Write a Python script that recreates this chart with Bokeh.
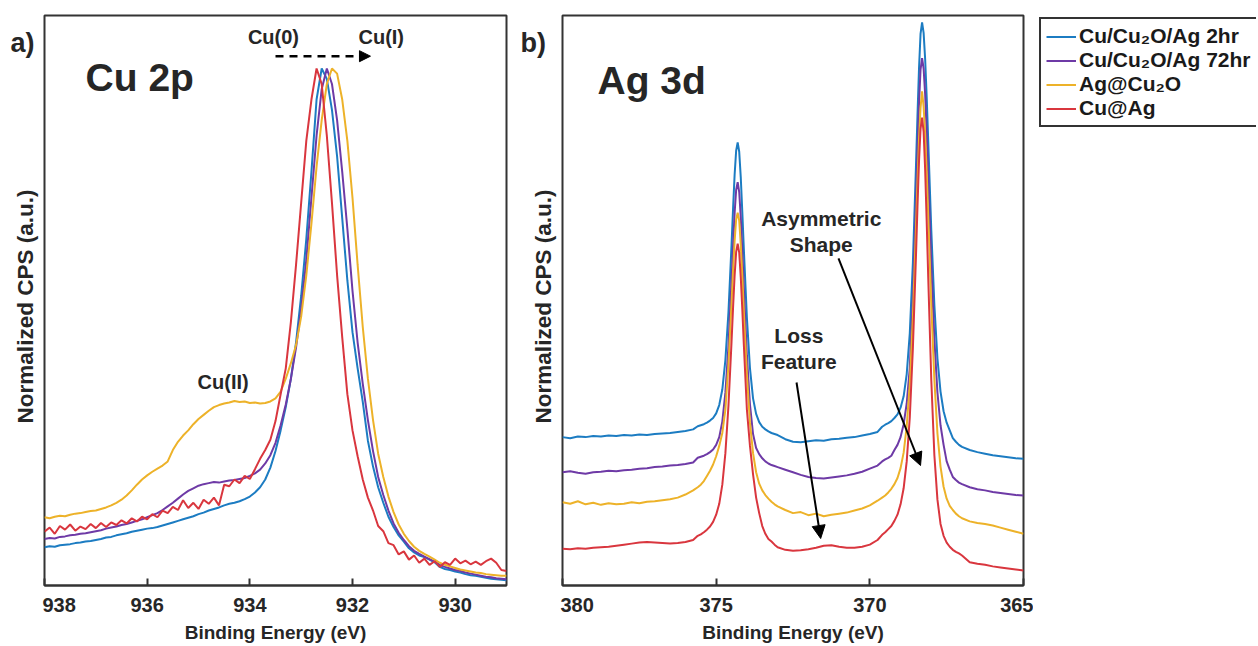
from bokeh.plotting import figure
from bokeh.models import Range1d, FixedTicker, Label, Arrow, NormalHead, Legend, LegendItem
from bokeh.layouts import row
from bokeh.embed import file_html
from bokeh.resources import INLINE

FONT = "Liberation Sans"
TXT = "#262626"

series_names = ["Cu/Cu\u2082O/Ag 2hr", "Cu/Cu\u2082O/Ag 72hr", "Ag@Cu\u2082O", "Cu@Ag"]
series_colors = ["#1C7CC2", "#6E3AA6", "#EDB229", "#D9363E"]

# ---------------- Panel a: Cu 2p ----------------
cu_energy = [round(938.0 - 0.1 * i, 1) for i in range(91)]

cu_2hr = [
    0.074, 0.076, 0.075, 0.078, 0.079, 0.080, 0.082, 0.083, 0.085, 0.086,
    0.088, 0.090, 0.093, 0.094, 0.097, 0.099, 0.101, 0.104, 0.106, 0.108,
    0.110, 0.111, 0.113, 0.116, 0.119, 0.122, 0.125, 0.128, 0.131, 0.134,
    0.138, 0.141, 0.145, 0.148, 0.151, 0.155, 0.158, 0.160, 0.163, 0.167,
    0.172, 0.180, 0.190, 0.205, 0.228, 0.260, 0.300, 0.345, 0.400, 0.470,
    0.560, 0.670, 0.800, 0.940, 1.000, 0.980, 0.920, 0.830, 0.710, 0.590,
    0.490, 0.420, 0.355, 0.280, 0.230, 0.190, 0.160, 0.133, 0.113, 0.097,
    0.085, 0.072, 0.064, 0.058, 0.055, 0.050, 0.045, 0.036, 0.032, 0.030,
    0.027, 0.025, 0.022, 0.020, 0.019, 0.017, 0.015, 0.013, 0.012, 0.011,
    0.010]
cu_72hr = [
    0.090, 0.092, 0.091, 0.094, 0.095, 0.097, 0.098, 0.100, 0.101, 0.103,
    0.105, 0.107, 0.110, 0.112, 0.114, 0.117, 0.119, 0.122, 0.125, 0.128,
    0.132, 0.136, 0.140, 0.146, 0.153, 0.160, 0.168, 0.176, 0.183, 0.188,
    0.193, 0.196, 0.198, 0.200, 0.199, 0.201, 0.203, 0.204, 0.206, 0.208,
    0.212, 0.217, 0.224, 0.236, 0.252, 0.276, 0.310, 0.350, 0.400, 0.460,
    0.535, 0.630, 0.750, 0.870, 0.960, 1.000, 0.970, 0.900, 0.800, 0.690,
    0.570, 0.470, 0.390, 0.320, 0.260, 0.210, 0.175, 0.145, 0.120, 0.102,
    0.088, 0.076, 0.067, 0.061, 0.056, 0.051, 0.046, 0.040, 0.036, 0.033,
    0.030, 0.028, 0.025, 0.023, 0.021, 0.019, 0.017, 0.016, 0.014, 0.013,
    0.012]
cu_agcu2o = [
    0.132, 0.130, 0.133, 0.135, 0.134, 0.137, 0.139, 0.140, 0.142, 0.144,
    0.145, 0.148, 0.151, 0.155, 0.160, 0.166, 0.174, 0.184, 0.195, 0.205,
    0.213, 0.220, 0.226, 0.232, 0.240, 0.262, 0.278, 0.290, 0.300, 0.312,
    0.322, 0.330, 0.338, 0.345, 0.349, 0.352, 0.354, 0.357, 0.355, 0.356,
    0.353, 0.354, 0.352, 0.353, 0.356, 0.362, 0.375, 0.400, 0.430, 0.465,
    0.520, 0.600, 0.700, 0.810, 0.900, 0.970, 1.000, 0.990, 0.940, 0.860,
    0.750, 0.620, 0.500, 0.400, 0.320, 0.255, 0.210, 0.172, 0.142, 0.118,
    0.100, 0.086, 0.075, 0.067, 0.061, 0.056, 0.050, 0.044, 0.040, 0.037,
    0.034, 0.031, 0.029, 0.027, 0.025, 0.024, 0.022, 0.021, 0.020, 0.019,
    0.019]
cu_cuag = [
    0.104, 0.112, 0.100, 0.115, 0.108, 0.118, 0.106, 0.114, 0.109, 0.119,
    0.111, 0.121, 0.113, 0.122, 0.117, 0.126, 0.120, 0.130, 0.124, 0.133,
    0.128, 0.138, 0.132, 0.145, 0.140, 0.152, 0.146, 0.165, 0.150, 0.160,
    0.148, 0.166, 0.158, 0.170, 0.155, 0.195, 0.192, 0.205, 0.198, 0.212,
    0.206, 0.225, 0.245, 0.262, 0.282, 0.318, 0.370, 0.420, 0.510, 0.620,
    0.740, 0.860, 0.940, 1.000, 0.970, 0.870, 0.740, 0.600, 0.480, 0.370,
    0.300, 0.250, 0.205, 0.170, 0.145, 0.115, 0.105, 0.082, 0.078, 0.060,
    0.066, 0.050, 0.058, 0.044, 0.052, 0.040, 0.047, 0.036, 0.045, 0.040,
    0.052, 0.043, 0.048, 0.041, 0.046, 0.040, 0.047, 0.052, 0.044, 0.030,
    0.028]

# ---------------- Panel b: Ag 3d ----------------
ag_energy = [
    380.0, 379.75, 379.5, 379.25, 379.0, 378.75, 378.5, 378.25, 378.0, 377.75,
    377.5, 377.25, 377.0, 376.75, 376.5, 376.25, 376.0, 375.75,
    375.6, 375.5, 375.4, 375.3, 375.2, 375.1, 375.0, 374.9, 374.8, 374.7, 374.6,
    374.5, 374.45, 374.4, 374.35, 374.3, 374.25, 374.2, 374.15, 374.1, 374.0,
    373.9, 373.8, 373.7, 373.6, 373.5, 373.4, 373.3, 373.2, 373.1, 373.0,
    372.75, 372.5, 372.25, 372.0, 371.75, 371.5, 371.25, 371.0, 370.75, 370.5,
    370.25, 370.0, 369.75,
    369.6, 369.5, 369.4, 369.3, 369.2, 369.1, 369.0, 368.9, 368.8, 368.7, 368.6,
    368.5, 368.45, 368.4, 368.35, 368.3, 368.25, 368.2, 368.15, 368.1, 368.0,
    367.9, 367.8, 367.7, 367.6, 367.5, 367.4, 367.3, 367.2, 367.1, 367.0,
    366.75, 366.5, 366.25, 366.0, 365.75, 365.5, 365.25, 365.0]

ag_2hr = [
    0.287, 0.285, 0.288, 0.287, 0.289, 0.288, 0.290, 0.289, 0.291, 0.290,
    0.292, 0.291, 0.293, 0.294, 0.295, 0.297, 0.299, 0.302,
    0.308, 0.310, 0.312, 0.315, 0.319, 0.324, 0.333, 0.349, 0.379, 0.436, 0.529,
    0.659, 0.729, 0.794, 0.841, 0.857, 0.839, 0.790, 0.723, 0.651, 0.518,
    0.420, 0.362, 0.332, 0.316, 0.307, 0.302, 0.298, 0.295, 0.293, 0.291,
    0.283, 0.278, 0.277, 0.279, 0.281, 0.280, 0.283, 0.284, 0.286, 0.287,
    0.290, 0.293, 0.297,
    0.307, 0.311, 0.314, 0.318, 0.324, 0.331, 0.344, 0.366, 0.409, 0.488, 0.623,
    0.809, 0.908, 1.000, 1.067, 1.089, 1.069, 1.018, 0.945, 0.860, 0.687,
    0.542, 0.439, 0.375, 0.337, 0.315, 0.300, 0.285, 0.278, 0.272, 0.268,
    0.262, 0.258, 0.255, 0.252, 0.250, 0.248, 0.246, 0.245]
ag_72hr = [
    0.219, 0.221, 0.218, 0.216, 0.219, 0.220, 0.222, 0.221, 0.223, 0.224,
    0.226, 0.227, 0.229, 0.230, 0.232, 0.233, 0.235, 0.238,
    0.247, 0.249, 0.251, 0.254, 0.258, 0.263, 0.272, 0.287, 0.317, 0.373, 0.463,
    0.590, 0.658, 0.720, 0.765, 0.780, 0.761, 0.713, 0.648, 0.577, 0.445,
    0.350, 0.293, 0.266, 0.254, 0.246, 0.240, 0.236, 0.233, 0.231, 0.229,
    0.224, 0.219, 0.214, 0.210, 0.208, 0.207, 0.209, 0.211, 0.213, 0.216,
    0.220, 0.226, 0.232,
    0.240, 0.244, 0.247, 0.251, 0.262, 0.272, 0.287, 0.312, 0.352, 0.421, 0.556,
    0.740, 0.840, 0.932, 0.998, 1.020, 1.000, 0.950, 0.876, 0.792, 0.620,
    0.476, 0.373, 0.310, 0.272, 0.240, 0.224, 0.210, 0.204, 0.199, 0.196,
    0.190, 0.186, 0.184, 0.181, 0.179, 0.177, 0.175, 0.174]
ag_agcu2o = [
    0.161, 0.158, 0.163, 0.157, 0.160, 0.156, 0.159, 0.157, 0.158, 0.161,
    0.159, 0.162, 0.163, 0.165, 0.167, 0.170, 0.176, 0.184,
    0.190, 0.195, 0.202, 0.212, 0.222, 0.234, 0.250, 0.270, 0.295, 0.340, 0.428,
    0.546, 0.610, 0.666, 0.708, 0.721, 0.706, 0.660, 0.600, 0.531, 0.408,
    0.315, 0.256, 0.219, 0.197, 0.184, 0.175, 0.168, 0.162, 0.157, 0.153,
    0.146, 0.140, 0.142, 0.136, 0.139, 0.134, 0.137, 0.139, 0.141, 0.145,
    0.149, 0.155, 0.164,
    0.170, 0.174, 0.180, 0.187, 0.196, 0.208, 0.227, 0.257, 0.308, 0.390, 0.518,
    0.688, 0.780, 0.863, 0.924, 0.956, 0.926, 0.874, 0.800, 0.715, 0.542,
    0.398, 0.294, 0.230, 0.191, 0.168, 0.154, 0.146, 0.139, 0.134, 0.130,
    0.124, 0.121, 0.119, 0.116, 0.112, 0.108, 0.104, 0.100]
ag_cuag = [
    0.071, 0.070, 0.072, 0.071, 0.073, 0.074, 0.075, 0.077, 0.079, 0.081,
    0.083, 0.084, 0.083, 0.082, 0.081, 0.082, 0.084, 0.088,
    0.096, 0.099, 0.103, 0.108, 0.114, 0.123, 0.137, 0.158, 0.195, 0.256, 0.348,
    0.471, 0.538, 0.599, 0.645, 0.661, 0.644, 0.597, 0.535, 0.466, 0.340,
    0.270, 0.215, 0.170, 0.140, 0.115, 0.100, 0.090, 0.085, 0.079, 0.074,
    0.069, 0.067, 0.068, 0.070, 0.073, 0.077, 0.078, 0.075, 0.073, 0.073,
    0.075, 0.079, 0.088,
    0.098, 0.103, 0.109, 0.115, 0.125, 0.137, 0.157, 0.188, 0.240, 0.325, 0.458,
    0.635, 0.732, 0.820, 0.883, 0.905, 0.878, 0.804, 0.704, 0.596, 0.397,
    0.252, 0.166, 0.119, 0.096, 0.083, 0.075, 0.069, 0.065, 0.062, 0.058,
    0.045, 0.042, 0.040, 0.037, 0.035, 0.033, 0.031, 0.029]

cu_ticks = [938, 936, 934, 932, 930]
ag_ticks = [380, 375, 370, 365]
Y_LABEL = "Normalized CPS (a.u.)"
X_LABEL = "Binding Energy (eV)"
Y_TOP = 1.1025


def make_panel(x_start, x_end, ticks, frame_w):
    p = figure(frame_width=frame_w, frame_height=570,
               x_range=Range1d(x_start, x_end), y_range=Range1d(0, Y_TOP),
               min_border_left=2, min_border_right=10,
               min_border_top=15, min_border_bottom=61,
               y_axis_location=None,
               output_backend="svg", toolbar_location=None)
    p.grid.visible = False
    p.outline_line_color = "#333333"
    p.outline_line_width = 2
    p.background_fill_color = "white"
    p.border_fill_color = "white"
    xa = p.xaxis[0]
    xa.ticker = FixedTicker(ticks=ticks)
    xa.major_tick_in = 7
    xa.major_tick_out = 0
    xa.major_tick_line_width = 2
    xa.major_tick_line_color = "#333333"
    xa.minor_tick_line_color = None
    xa.axis_line_width = 2
    xa.axis_line_color = "#333333"
    xa.major_label_text_font = FONT
    xa.major_label_text_font_size = "20px"
    xa.major_label_text_font_style = "bold"
    xa.major_label_text_color = TXT
    xa.major_label_standoff = 12
    xa.axis_label = X_LABEL
    xa.axis_label_text_font = FONT
    xa.axis_label_text_font_size = "19px"
    xa.axis_label_text_font_style = "bold"
    xa.axis_label_text_color = TXT
    xa.axis_label_standoff = 7
    return p


def make_gutter(width, letter, letter_x, ylabel_x):
    # narrow strip left of a panel; coordinates are pixels from its top-left
    g = figure(frame_width=width, frame_height=646,
               x_range=Range1d(0, width), y_range=Range1d(646, 0),
               min_border_left=0, min_border_right=0, min_border_top=0, min_border_bottom=0,
               x_axis_location=None, y_axis_location=None,
               output_backend="svg", toolbar_location=None)
    g.grid.visible = False
    g.outline_line_color = None
    g.add_layout(Label(x=letter_x, y=27, text=letter, text_font=FONT, text_font_size="27px",
                       text_font_style="bold", text_color=TXT, text_align="left",
                       text_baseline="alphabetic"))
    g.add_layout(Label(x=ylabel_x, y=291, text=Y_LABEL, angle=1.5708, text_font=FONT,
                       text_font_size="22.5px", text_font_style="bold", text_color=TXT,
                       text_align="center", text_baseline="middle"))
    return g


def add_label(p, x, y, text, size, align="center"):
    p.add_layout(Label(x=x, y=y, text=text, text_font=FONT, text_font_size=size,
                       text_font_style="bold", text_color=TXT, text_align=align,
                       text_baseline="alphabetic"))


# Panel a
ga = make_gutter(42, "a)", 10, 25)
pa = make_panel(938, 929, cu_ticks, 462)
for ys, c in zip([cu_2hr, cu_72hr, cu_agcu2o, cu_cuag], series_colors):
    pa.line(cu_energy, ys, line_color=c, line_width=2)
add_label(pa, 937.2, 0.9826, "Cu 2p", "39px", "left")
add_label(pa, 933.54, 1.06, "Cu(0)", "20px")
add_label(pa, 931.44, 1.06, "Cu(I)", "20px")
add_label(pa, 934.52, 0.3936, "Cu(II)", "20px")
pa.add_layout(Arrow(end=NormalHead(size=11, fill_color="black", line_color="black"),
                    x_start=933.5, y_start=1.0238, x_end=931.65, y_end=1.0238,
                    line_color="black", line_width=2.5, line_dash="8 6"))

# Panel b
gb = make_gutter(44, "b)", 4, 27)
pb = make_panel(380, 365, ag_ticks, 461)
for ys, c in zip([ag_2hr, ag_72hr, ag_agcu2o, ag_cuag], series_colors):
    pb.line(ag_energy, ys, line_color=c, line_width=2)
add_label(pb, 378.86, 0.9768, "Ag 3d", "39px", "left")
add_label(pb, 371.58, 0.7089, "Asymmetric", "21px")
add_label(pb, 371.58, 0.6605, "Shape", "21px")
add_label(pb, 372.31, 0.4826, "Loss", "21px")
add_label(pb, 372.31, 0.4342, "Feature", "21px")
pb.add_layout(Arrow(end=NormalHead(size=13, fill_color="black", line_color="black"),
                    x_start=371.02, y_start=0.6325, x_end=368.35, y_end=0.2321,
                    line_color="black", line_width=2))
pb.add_layout(Arrow(end=NormalHead(size=13, fill_color="black", line_color="black"),
                    x_start=372.385, y_start=0.3926, x_end=371.60, y_end=0.0909,
                    line_color="black", line_width=2))

# Legend panel
pl = figure(frame_width=219, frame_height=570, min_border_left=4, min_border_right=0,
            min_border_top=15, min_border_bottom=61,
            x_range=Range1d(0, 1), y_range=Range1d(0, 1),
            x_axis_location=None, y_axis_location=None,
            output_backend="svg", toolbar_location=None)
pl.grid.visible = False
pl.outline_line_color = None
items = []
for name, c in zip(series_names, series_colors):
    r = pl.line(x=[-2, -1], y=[-2, -1], line_color=c, line_width=2)
    items.append(LegendItem(label=name, renderers=[r]))
legend = Legend(items=items, location="top_left", margin=2, padding=5, spacing=0,
                glyph_width=30, glyph_height=23, label_height=23, label_standoff=3,
                label_text_font=FONT, label_text_font_size="21px",
                label_text_font_style="bold", label_text_color="#1a1a1a",
                border_line_color="#333333", border_line_width=2, border_line_alpha=1.0,
                background_fill_color="white", background_fill_alpha=1.0)
pl.add_layout(legend)

layout = row(ga, pa, gb, pb, pl)
open("out.html", "w").write(file_html(layout, INLINE))
